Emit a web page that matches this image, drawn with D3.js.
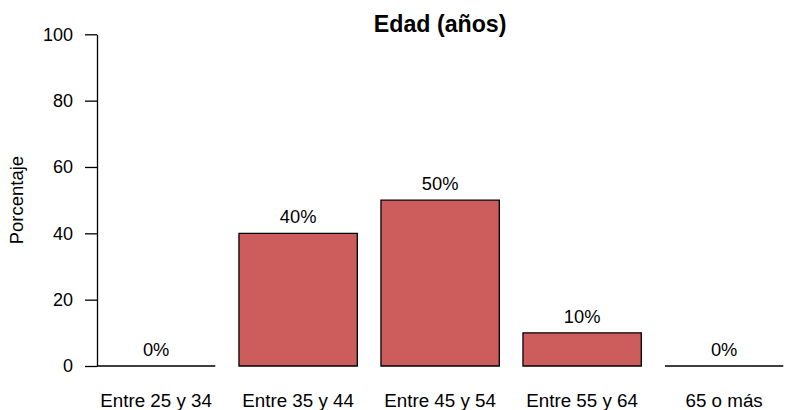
<!DOCTYPE html>
<html><head><meta charset="utf-8">
<script src="https://cdn.jsdelivr.net/npm/d3@7"></script>
<style>
body{margin:0;background:#fff;}
text{font-family:"Liberation Sans",Arial,Helvetica,sans-serif;fill:#000;}
</style></head>
<body>
<svg id="chart" width="785" height="410"></svg>
<script>
const categories = ["Entre 25 y 34","Entre 35 y 44","Entre 45 y 54","Entre 55 y 64","65 o más"];
const values = [0, 40, 50, 10, 0];
const yTicks = [0, 20, 40, 60, 80, 100];
const title = "Edad (años)";
const yTitle = "Porcentaje";

const svg = d3.select("#chart");
// R-barplot-like unit scale: bar i spans [0.2+1.2i, 1.2+1.2i]
const x = d3.scaleLinear().domain([0, 6]).range([73.3, 783.3]);
const y = d3.scaleLinear().domain([0, 100]).range([366, 34.3]);

// bars
svg.append("g").selectAll("path").data(values).join("path")
  .attr("d", (d,i) => {
    const x0 = x(0.2 + 1.2*i), x1 = x(1.2 + 1.2*i);
    return `M${x0},${y(0)}H${x1}V${y(d)}H${x0}Z`;
  })
  .attr("fill", "#CD5C5C")
  .attr("stroke", "#000")
  .attr("stroke-width", 1.3);

// value labels
svg.append("g").selectAll("text").data(values).join("text")
  .attr("x", (d,i) => x(0.7 + 1.2*i))
  .attr("y", d => y(d) - 10)
  .attr("text-anchor", "middle")
  .attr("font-size", "18.3px")
  .text(d => d + "%");

// category labels
svg.append("g").selectAll("text").data(categories).join("text")
  .attr("x", (d,i) => x(0.7 + 1.2*i))
  .attr("y", 407)
  .attr("text-anchor", "middle")
  .attr("font-size", "18.8px")
  .text(d => d);

// y axis
const yAxis = d3.axisLeft(y).tickValues(yTicks).tickSize(12).tickSizeOuter(0).tickPadding(12);
const gy = svg.append("g").attr("transform", "translate(97,0)").call(yAxis);
gy.selectAll("path,line").attr("stroke", "#000").attr("stroke-width", 1.3);
gy.selectAll("text").attr("font-size", "18px").attr("font-family", "Liberation Sans, Arial, sans-serif").attr("fill", "#000");

// y title
svg.append("text")
  .attr("transform", `translate(23,${(y(0)+y(100))/2}) rotate(-90)`)
  .attr("text-anchor", "middle")
  .attr("font-size", "18.5px")
  .text(yTitle);

// title
svg.append("text")
  .attr("x", (x(0.2) + x(6.0))/2)
  .attr("y", 32)
  .attr("text-anchor", "middle")
  .attr("font-size", "23.2px")
  .attr("font-weight", "bold")
  .text(title);
</script>
</body></html>
